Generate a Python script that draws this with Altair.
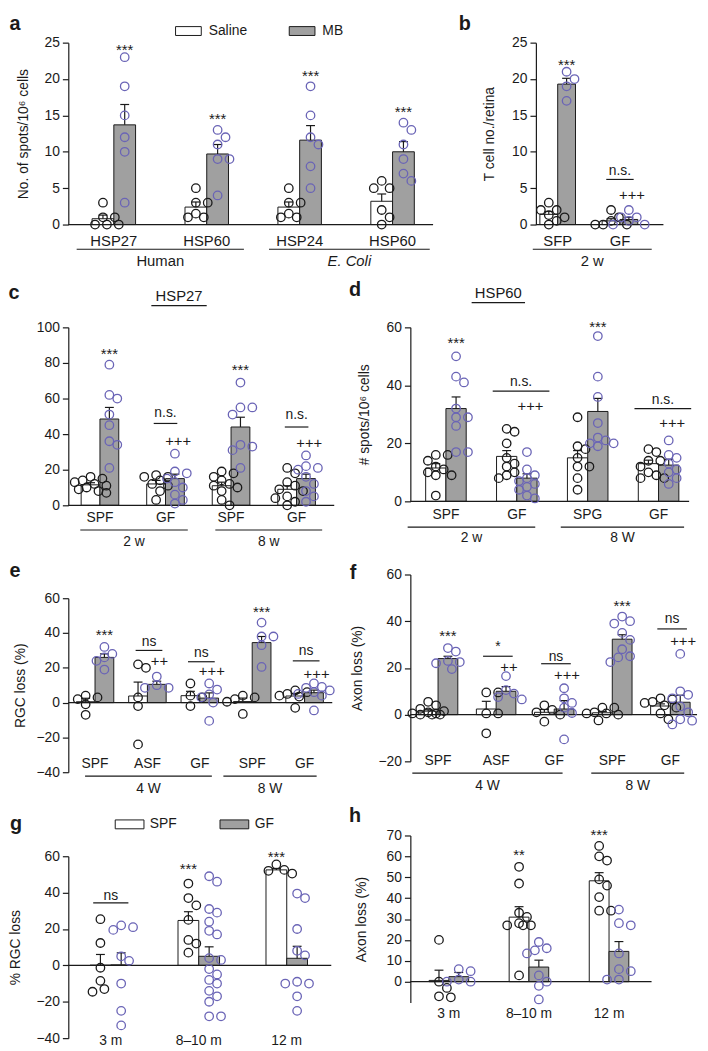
import altair as alt
import pandas as pd

FONT = "Liberation Sans"
INK = "#1a1a1a"
GRAY = "#a0a0a0"
PURPLE = "#6a64b6"

# ---------------- panel a ----------------
A_CATS = ["HSP27", "HSP60", "HSP24", "HSP60"]
A_L_MEAN = [0.8, 2.4, 2.4, 3.2]
A_L_SEM = [0.5, 0.7, 0.7, 1.0]
A_L_PTS = [[3, 1, 1, 0, 0, 0], [5, 3, 3, 1.5, 1, 1], [5, 3, 3, 1.5, 1, 1], [6, 5, 5, 2, 1, 0]]
A_R_MEAN = [13.7, 9.7, 11.6, 10.0]
A_R_SEM = [2.8, 1.3, 2.0, 1.4]
A_R_PTS = [[23, 19, 15, 12, 10, 3], [13, 12, 11, 9, 9, 4], [19, 15, 12, 11, 8, 5], [14, 13, 11, 9, 7, 6]]
A_STARS = [(0, "R", "***", 24.5), (1, "R", "***", 15.0), (2, "R", "***", 21.0), (3, "R", "***", 16.0)]
A_NS = []
A_PLUS = []
A_GROUPS = [("Human", 0.60, 2.40, False), ("E. Coli", 2.67, 4.40, True)]

# ---------------- panel b ----------------
B_CATS = ["SFP", "GF"]
B_L_MEAN = [1.4, 0.5]
B_L_SEM = [0.4, 0.3]
B_L_PTS = [[3, 2, 2, 1.3, 1, 0.5, 0], [2, 1, 0.5, 0, 0, 0]]
B_R_MEAN = [19.3, 0.7]
B_R_SEM = [0.8, 0.3]
B_R_PTS = [[21, 20, 19, 17], [2, 1, 1, 0.5, 0, 0]]
B_STARS = [(0, "R", "***", 22.5)]
B_NS = [(1, "n.s.", 7.3, 6.2)]
B_PLUS = [(1, "+++", 4.1)]
B_GROUPS = [("2 w", 0.60, 2.51, False)]

# ---------------- panel c ----------------
C_CATS = ["SPF", "GF", "SPF", "GF"]
C_L_MEAN = [11.5, 12.0, 11.0, 9.0]
C_L_SEM = [1.2, 2.0, 2.0, 2.0]
C_L_PTS = [[16, 15, 14, 13, 12, 11, 10, 9, 8, 7], [17, 16, 16, 14, 12, 11, 8, 3],
           [19, 18, 16, 14, 12, 11, 10, 8, 3, 0], [21, 18, 13, 11, 9, 8, 5, 4, 2, 0]]
C_R_MEAN = [48.5, 15.0, 44.0, 15.0]
C_R_SEM = [6.5, 2.5, 5.5, 2.5]
C_R_PTS = [[79, 62, 60, 51, 45, 36, 34, 21], [29, 19, 18, 15, 13, 10, 6, 3, 1],
           [69, 55, 55, 51, 34, 33, 31, 21], [28, 22, 21, 20, 16, 12, 8, 5, 2]]
C_STARS = [(0, "R", "***", 87), (2, "R", "***", 78)]
C_NS = [(1, "n.s.", 52, 46), (3, "n.s.", 50.5, 44)]
C_PLUS = [(1, "+++", 36), (3, "+++", 35)]
C_GROUPS = [("2 w", 0.70, 2.34, False), ("8 w", 2.76, 4.39, False)]

# ---------------- panel d ----------------
D_CATS = ["SPF", "GF", "SPG", "GF"]
D_L_MEAN = [11.5, 15.5, 15.0, 13.0]
D_L_SEM = [1.5, 2.0, 2.5, 1.2]
D_L_PTS = [[16, 16, 14, 12, 11, 10, 9, 9, 2], [25, 24, 20, 15, 13, 12, 10, 9, 8],
           [29, 19, 18, 15, 12, 12, 8, 4], [18, 17, 14, 14, 12, 10, 9, 8, 8]]
D_R_MEAN = [32.0, 8.0, 31.0, 12.5]
D_R_SEM = [4.0, 1.5, 4.5, 2.0]
D_R_PTS = [[50, 43, 41, 32, 29, 29, 26, 17, 17], [17, 11, 9, 8, 7, 6, 5, 4, 2, 1],
           [57, 43, 36, 27, 22, 21, 20, 20, 19], [21, 16, 15, 13, 11, 10, 8, 6]]
D_STARS = [(0, "R", "***", 56), (2, "R", "***", 61.5)]
D_NS = [(1, "n.s.", 41, 38), (3, "n.s.", 35, 32)]
D_PLUS = [(1, "+++", 33), (3, "+++", 27)]
D_GROUPS = [("2 w", 0.46, 2.26, False), ("8 W", 2.62, 4.36, False)]

# ---------------- panel e ----------------
E_CATS = ["SPF", "ASF", "GF", "SPF", "GF"]
E_L_MEAN = [0.5, 3.8, 4.0, 0.6, 3.8]
E_L_SEM = [2.0, 8.0, 2.5, 2.0, 1.5]
E_L_PTS = [[4, 3, 2, -1, -7], [22, 20, 3, -2, -24], [11, 4, 3, -2], [4, 3, 2, 0.5, -6.5], [7, 6, 5, 4, 3.5, -3]]
E_R_MEAN = [26.0, 10.5, 2.6, 34.5, 5.7]
E_R_SEM = [2.0, 1.8, 3.0, 3.5, 1.5]
E_R_PTS = [[32, 28, 26, 24, 19], [15, 10, 8.5, 8.5], [11, 7.5, 4.7, 3, 0, -10.5],
           [46, 38, 38, 33, 20.5], [11, 9, 8.5, 7, 6, 5, 4, -4.5]]
E_STARS = [(0, "R", "***", 41), (3, "R", "***", 54.5)]
E_NS = [(1, "ns", 35, 30), (2, "ns", 28.5, 23.5), (4, "ns", 29.5, 24)]
E_PLUS = [(1, "++", 24), (2, "+++", 18), (4, "+++", 16.5)]
E_GROUPS = [("4 W", 0.81, 3.23, False), ("8 W", 3.45, 5.23, False)]

# ---------------- panel f ----------------
F_CATS = ["SPF", "ASF", "GF", "SPF", "GF"]
F_L_MEAN = [1.5, 2.4, 1.0, 0.8, 3.7]
F_L_SEM = [0.6, 3.3, 1.2, 0.6, 0.9]
F_L_PTS = [[5.5, 4, 2.5, 1.5, 1, 0.5, 0.5, 0, 0, 0], [9.5, 9.5, 0.5, 0.5, -8], [4, 2, 1, 0, -3],
           [3, 3, 1, 0.5, 0.5, 0, -2.5], [7, 6.5, 5.5, 5, 4, 3, 0.5, -2]]
F_R_MEAN = [24.0, 10.0, 2.4, 32.3, 5.3]
F_R_SEM = [1.0, 2.0, 3.6, 1.9, 3.0]
F_R_PTS = [[28.5, 27, 23, 22.5, 22, 19.5], [16.5, 10.5, 9, 7.5, 6.5], [11.3, 7, 5, 3, 0.7, -10.6],
           [42, 40, 39, 35, 32, 28, 25, 24.5, 22.5], [26, 10, 8.5, 7, 3.5, 1, -2, -2.6, -4.2]]
F_STARS = [(0, "R", "***", 35.5), (3, "R", "***", 48)]
F_NS = [(1, "*", 29, 25), (2, "ns", 24.7, 21.8), (4, "ns", 41, 36.7)]
F_PLUS = [(1, "++", 20.4), (2, "+++", 17), (4, "+++", 31.7)]
F_GROUPS = [("4 W", 0.557, 3.144, False), ("8 W", 3.638, 5.238, False)]

# ---------------- panel g ----------------
G_CATS = ["3 m", "8–10 m", "12 m"]
G_L_MEAN = [0.1, 24.7, 52.5]
G_L_SEM = [5.9, 4.8, 0.8]
G_L_PTS = [[25.4, 12.3, -1.3, -8.5, -14.5, -13], [45, 37, 33, 25, 14, 12, 7], [55.5, 52.5, 52, 50.5]]
G_R_MEAN = [0.3, 5.0, 3.9]
G_R_SEM = [6.6, 5.2, 6.6]
G_R_PTS = [[22, 21, 19.5, 5, 2.5, -10, -25, -33],
           [49, 46, 31, 29, 24, 19, 17, 4, 3, -2, -5, -8, -10, -14, -17, -20, -28, -28],
           [39.5, 37, 20, 8, 5.5, -9, -10, -10, -17, -25]]
G_STARS = [(1, "L", "***", 55.4), (2, "L", "***", 62)]
G_NS = [(0, "ns", 38, 34.4)]
G_PLUS = []
G_GROUPS = []

# ---------------- panel h ----------------
H_CATS = ["3 m", "8–10 m", "12 m"]
H_L_MEAN = [0.6, 30.9, 48.3]
H_L_SEM = [4.9, 5.0, 3.9]
H_L_PTS = [[20, 0, -3, -7.5, -7], [55, 47, 33, 31, 28, 27, 27, 27, 3], [65, 60, 58, 49, 46, 40.5, 34, 34]]
H_R_MEAN = [2.4, 7.0, 14.5]
H_R_SEM = [2.0, 3.3, 4.7]
H_R_PTS = [[6, 5, 1, 0, 0], [19, 16, 15, 13.5, 3, 0, -2, -8.5], [34.5, 28, 27, 13.5, 6, 5, 1, 1]]
H_STARS = [(1, "L", "**", 62.5), (2, "L", "***", 72)]
H_NS = []
H_PLUS = []
H_GROUPS = []

# ---------------- layout / style per panel ----------------
GEOM = {
    "a": dict(W=369, H=184, lo=0.51, hi=4.436, bw=0.234, ydom=[0, 25], ticks=[0, 5, 10, 15, 20, 25],
              title="No. of spots/10⁶ cells", tx=-45, lx=-54, ly=-19, lab=17, gline=25, glab=37,
              catfs=15, nsw=0.15, nsdx=0.0, box=(61, 29, 450, 259), names=["Saline", "MB"]),
    "b": dict(W=129, H=184, lo=0.65, hi=2.698, bw=0.286, ydom=[0, 25], ticks=[0, 5, 10, 15, 20, 25],
              title="T cell no./retina", tx=-47, lx=-72, ly=-19, lab=17, gline=25, glab=37,
              catfs=15, nsw=0.22, nsdx=0.0, box=(84, 29, 250, 259), names=["Saline", "MB"]),
    "c": dict(W=269, H=180, lo=0.517, hi=4.574, bw=0.287, ydom=[0, 100], ticks=[0, 20, 40, 60, 80, 100],
              title="", tx=-45, lx=-55, ly=-35, lab=13, gline=25, glab=37,
              catfs=14, nsw=0.18, nsdx=0.0, box=(61, 55, 344, 284), names=["Saline", "MB"]),
    "d": dict(W=282, H=176, lo=0.498, hi=4.431, bw=0.286, ydom=[0, 60], ticks=[0, 20, 40, 60],
              title="# spots/10⁶ cells", tx=-46, lx=-56, ly=-38, lab=14, gline=26, glab=37,
              catfs=14, nsw=0.40, nsdx=0.06, box=(63, 58, 356, 285), names=["Saline", "MB"]),
    "e": dict(W=267, H=176, lo=0.49, hi=5.528, bw=0.358, ydom=[-40, 60], ticks=[-40, -20, 0, 20, 40, 60],
              title="RGC loss (%)", tx=-48, lx=-54, ly=-27, lab=-8, gline=4, glab=17,
              catfs=14, nsw=0.255, nsdx=0.03, box=(61, 45, 344, 258), names=["Saline", "MB"]),
    "f": dict(W=290, H=189, lo=0.523, hi=5.459, bw=0.34, ydom=[-20, 60], ticks=[-20, 0, 20, 40, 60],
              title="Axon loss (%)", tx=-53, lx=-58, ly=-1, lab=0, gline=12, glab=25,
              catfs=14, nsw=0.255, nsdx=0.03, box=(63, 23, 356, 251), names=["Saline", "MB"]),
    "g": dict(W=266, H=184, lo=0.517, hi=3.506, bw=0.236, ydom=[-40, 60], ticks=[-40, -20, 0, 20, 40, 60],
              title="% RGC loss", tx=-53, lx=-53, ly=-33, lab=3, gline=0, glab=0,
              catfs=14, nsw=0.2, nsdx=0.0, box=(61, 48, 344, 243), names=["SPF", "GF"]),
    "h": dict(W=244, H=169, lo=0.519, hi=3.531, bw=0.247, ydom=[-10, 70], ticks=[0, 10, 20, 30, 40, 50, 60, 70],
              title="Axon loss (%)", tx=-49, lx=-56, ly=-20, lab=12, gline=0, glab=0,
              catfs=14, nsw=0.2, nsdx=0.0, box=(63, 36, 356, 248), names=["SPF", "GF"]),
}

LEGEND_PATH_A = "M-1.45,-0.5H1.45V0.5H-1.45Z"
LEGEND_PATH_G = "M-1.62,-0.5H1.62V0.5H-1.62Z"


def swarm(vals, ppu, d=8.5, step=4.0, maxk=4):
    order = sorted(range(len(vals)), key=lambda i: -vals[i])
    cands = [0.0]
    for k in range(1, maxk + 1):
        cands += [k * step, -k * step]
    placed, offs = [], [0.0] * len(vals)
    for i in order:
        y = vals[i] * ppu
        chosen = None
        for c in cands:
            if all((c - px) ** 2 + (y - py) ** 2 >= d * d for px, py in placed):
                chosen = c
                break
        if chosen is None:
            chosen = max(cands, key=lambda c: min((c - px) ** 2 + (y - py) ** 2 for px, py in placed))
        placed.append((chosen, y))
        offs[i] = chosen
    return offs


def text_layer(df, x, fs, y=None, yval=None, dy=0, style="normal", weight="normal"):
    mk = alt.Chart(df).mark_text(font=FONT, fontSize=fs, color=INK, baseline="middle", align="center",
                                 dy=dy, fontStyle=style, fontWeight=weight)
    enc = dict(x=x, text="t:N")
    enc["y"] = y if y is not None else alt.value(yval)
    return mk.encode(**enc)


def make_panel(key, letter, cats, lm, ls, lp, rm, rs, rp, stars, ns, plus, groups,
               legend=None, header=None):
    g = GEOM[key]
    W, H, lo, hi, bw = g["W"], g["H"], g["lo"], g["hi"], g["bw"]
    upx = W / (hi - lo)
    y0, y1 = g["ydom"]
    ppu = H / (y1 - y0)
    names = g["names"]
    xs = alt.Scale(domain=[lo, hi], nice=False, zero=False)
    ys = alt.Scale(domain=[y0, y1], nice=False, zero=False)
    yaxis = alt.Axis(values=g["ticks"], title=g["title"], grid=False, labelOverlap=False,
                     labelFont=FONT, labelFontSize=14, labelColor=INK, labelPadding=3,
                     tickColor=INK, tickSize=6, tickWidth=1.2, domainColor=INK, domainWidth=1.2,
                     titleFont=FONT, titleFontSize=14, titleFontWeight="normal", titleColor=INK,
                     titleX=g["tx"], titleY=H / 2, titleAlign="center", titleBaseline="middle")

    def X(f):
        return alt.X(f, type="quantitative", scale=xs, axis=None)

    def Y(f):
        return alt.Y(f, type="quantitative", scale=ys, axis=yaxis)

    cap = 4.5 / upx
    bar_rows, pt_rows = [], []
    centers = {}
    for k in range(len(cats)):
        c = k + 1
        for side, mean, sem, pts, col, nm in (("L", lm[k], ls[k], lp[k], INK, names[0]),
                                               ("R", rm[k], rs[k], rp[k], PURPLE, names[1])):
            cx = c - bw / 2 if side == "L" else c + bw / 2
            centers[(k, side)] = cx
            bar_rows.append(dict(x1=cx - bw / 2, x2=cx + bw / 2, base=0.0, mean=mean, top=mean + sem,
                                 cx=cx, c1=cx - cap, c2=cx + cap, grp=nm))
            for v, o in zip(pts, swarm(pts, ppu)):
                pt_rows.append(dict(px=cx + o / upx, v=v, col=col))
    bdf = pd.DataFrame(bar_rows)
    pdf = pd.DataFrame(pt_rows)

    fill = alt.Fill("grp:N", scale=alt.Scale(domain=names, range=["white", GRAY]), legend=legend)
    layers = [
        alt.Chart(bdf).mark_rect(stroke=INK, strokeWidth=1).encode(
            x=X("x1"), x2=alt.X2("x2"), y=Y("base"), y2=alt.Y2("mean"), fill=fill),
        alt.Chart(pd.DataFrame({"z": [0.0]})).mark_rule(color=INK, strokeWidth=1.3).encode(
            x=alt.value(0), x2=alt.value(W), y=Y("z")),
        alt.Chart(bdf).mark_rule(color=INK, strokeWidth=1.2).encode(x=X("cx"), y=Y("mean"), y2=alt.Y2("top")),
        alt.Chart(bdf).mark_rule(color=INK, strokeWidth=1.2).encode(x=X("c1"), x2=alt.X2("c2"), y=Y("top")),
        alt.Chart(pdf).mark_point(shape="circle", filled=False, size=74, strokeWidth=1.3, opacity=1).encode(
            x=X("px"), y=Y("v"), color=alt.Color("col:N", scale=None)),
    ]
    if stars:
        sdf = pd.DataFrame([dict(ax=centers[(k, s)], ay=y, t=t) for k, s, t, y in stars])
        layers.append(text_layer(sdf, X("ax"), 15, y=Y("ay"), dy=4))
    if ns:
        ndf = pd.DataFrame([dict(ax=k + 1 + g["nsdx"], ay=yt, yl=yl, l1=k + 1 + g["nsdx"] - g["nsw"],
                                 l2=k + 1 + g["nsdx"] + g["nsw"], t=t) for k, t, yt, yl in ns])
        layers.append(alt.Chart(ndf).mark_rule(color=INK, strokeWidth=1.2).encode(
            x=X("l1"), x2=alt.X2("l2"), y=Y("yl")))
        layers.append(text_layer(ndf, X("ax"), 14, y=Y("ay")))
    if plus:
        pldf = pd.DataFrame([dict(ax=centers[(k, "R")] + 0.05, ay=y, t=t) for k, t, y in plus])
        layers.append(text_layer(pldf, X("ax"), 15, y=Y("ay")))
    cdf = pd.DataFrame([dict(ax=k + 1, t=t) for k, t in enumerate(cats)])
    layers.append(text_layer(cdf, X("ax"), g["catfs"], yval=H + g["lab"]))
    if groups:
        gdf = pd.DataFrame([dict(g1=a, g2=b, gm=(a + b) / 2, t=t, it=it) for t, a, b, it in groups])
        layers.append(alt.Chart(gdf).mark_rule(color=INK, strokeWidth=1.2).encode(
            x=X("g1"), x2=alt.X2("g2"), y=alt.value(H + g["gline"])))
        for it in (False, True):
            sub = gdf[gdf.it == it]
            if len(sub):
                layers.append(text_layer(sub[["gm", "t"]], X("gm"), g["catfs"], yval=H + g["glab"],
                                         style="italic" if it else "normal"))
    one = pd.DataFrame({"t": [letter]})
    layers.append(alt.Chart(one).mark_text(font=FONT, fontSize=20, fontWeight="bold", color=INK,
                                           align="center", baseline="middle").encode(
        x=alt.value(g["lx"]), y=alt.value(g["ly"]), text="t:N"))
    if header:
        txt, hx, hy, u1, u2, uy = header
        layers.append(alt.Chart(pd.DataFrame({"t": [txt]})).mark_text(
            font=FONT, fontSize=15, color=INK, align="center", baseline="middle").encode(
            x=alt.value(hx), y=alt.value(hy), text="t:N"))
        layers.append(alt.Chart(pd.DataFrame({"t": [txt]})).mark_rule(color=INK, strokeWidth=1.2).encode(
            x=alt.value(u1), x2=alt.value(u2), y=alt.value(uy)))
    bl, bt, bwid, bht = g["box"]
    layers.append(alt.Chart(pd.DataFrame({"t": [0]})).mark_rule(
        stroke="white", strokeOpacity=0, strokeWidth=0.1).encode(
        x=alt.value(-bl), x2=alt.value(bwid - bl), y=alt.value(-bt), y2=alt.value(bht - bt)))
    return alt.layer(*layers).properties(width=W, height=H)


def legend_for(x, y, path):
    return alt.Legend(orient="none", legendX=x, legendY=y, direction="horizontal", columns=2, title=None,
                      labelFont=FONT, labelFontSize=14, labelColor=INK, symbolType=path, symbolSize=322,
                      symbolStrokeColor=INK, symbolStrokeWidth=1, symbolOpacity=1, labelOffset=11,
                      columnPadding=40, padding=0)


pa = make_panel("a", "a", A_CATS, A_L_MEAN, A_L_SEM, A_L_PTS, A_R_MEAN, A_R_SEM, A_R_PTS,
                A_STARS, A_NS, A_PLUS, A_GROUPS, legend=legend_for(112, -21.5, LEGEND_PATH_A))
pb = make_panel("b", "b", B_CATS, B_L_MEAN, B_L_SEM, B_L_PTS, B_R_MEAN, B_R_SEM, B_R_PTS,
                B_STARS, B_NS, B_PLUS, B_GROUPS)
pc = make_panel("c", "c", C_CATS, C_L_MEAN, C_L_SEM, C_L_PTS, C_R_MEAN, C_R_SEM, C_R_PTS,
                C_STARS, C_NS, C_PLUS, C_GROUPS, header=("HSP27", 112, -32, 84, 140, -22))
pd_ = make_panel("d", "d", D_CATS, D_L_MEAN, D_L_SEM, D_L_PTS, D_R_MEAN, D_R_SEM, D_R_PTS,
                 D_STARS, D_NS, D_PLUS, D_GROUPS, header=("HSP60", 89, -35, 62, 116, -25))
pe = make_panel("e", "e", E_CATS, E_L_MEAN, E_L_SEM, E_L_PTS, E_R_MEAN, E_R_SEM, E_R_PTS,
                E_STARS, E_NS, E_PLUS, E_GROUPS)
pf = make_panel("f", "f", F_CATS, F_L_MEAN, F_L_SEM, F_L_PTS, F_R_MEAN, F_R_SEM, F_R_PTS,
                F_STARS, F_NS, F_PLUS, F_GROUPS)
pg = make_panel("g", "g", G_CATS, G_L_MEAN, G_L_SEM, G_L_PTS, G_R_MEAN, G_R_SEM, G_R_PTS,
                G_STARS, G_NS, G_PLUS, G_GROUPS, legend=legend_for(52.5, -42, LEGEND_PATH_G))
ph = make_panel("h", "h", H_CATS, H_L_MEAN, H_L_SEM, H_L_PTS, H_R_MEAN, H_R_SEM, H_R_PTS,
                H_STARS, H_NS, H_PLUS, H_GROUPS)

row1 = alt.hconcat(pa, pb, spacing=0).resolve_scale(fill="independent")
col1 = alt.vconcat(pc, pe, pg, spacing=0).resolve_scale(fill="independent")
col2 = alt.vconcat(pd_, pf, ph, spacing=0).resolve_scale(fill="independent")
bottom = alt.hconcat(col1, col2, spacing=0).resolve_scale(fill="independent")
chart = (alt.vconcat(row1, bottom, spacing=0)
         .resolve_scale(fill="independent")
         .properties(padding=0)
         .configure(font=FONT)
         .configure_view(strokeOpacity=0, strokeWidth=0))

chart.save("out.html", embed_options={"renderer": "svg", "actions": False})
